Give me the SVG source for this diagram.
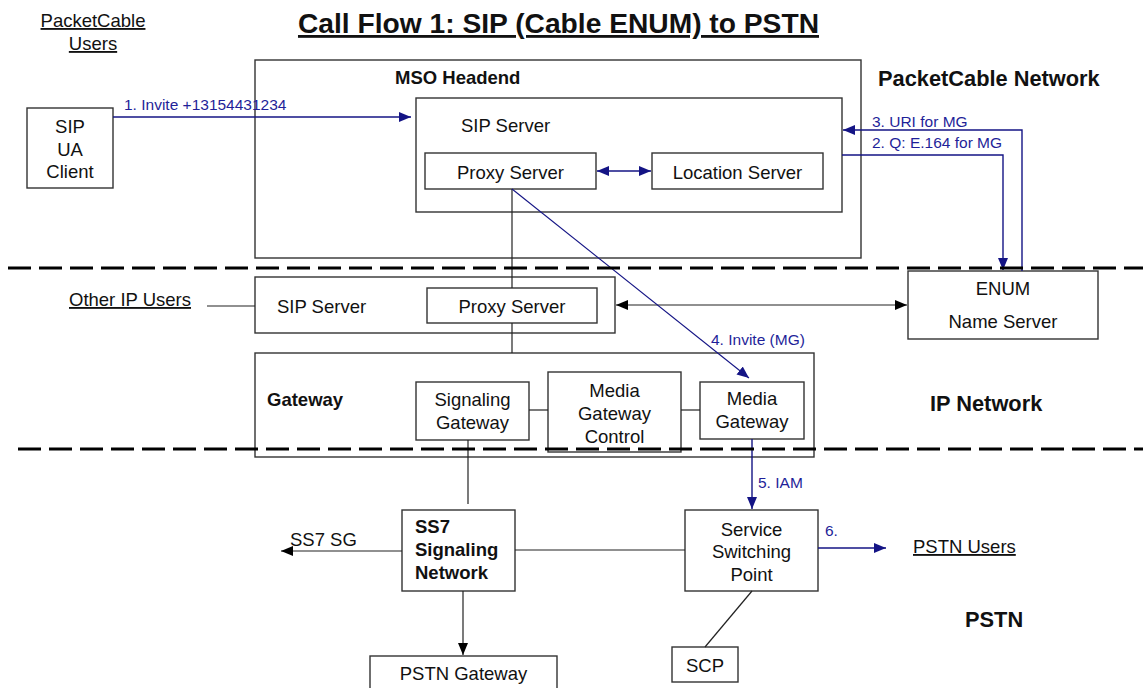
<svg xmlns="http://www.w3.org/2000/svg" width="1143" height="688" viewBox="0 0 1143 688">
<style>
text{font-family:"Liberation Sans",Arial,sans-serif;font-size:18.5px;fill:#111}
.c{text-anchor:middle}
.b{font-weight:bold}
.u{text-decoration:underline}
.h{font-weight:bold;font-size:21.8px}
.bl{fill:#1f1f99;font-size:15.5px}
.box{fill:#fff;stroke:#333;stroke-width:1.4}
.ln{stroke:#222;stroke-width:1.2;fill:none}
.bln{stroke:#141485;stroke-width:1.4;fill:none}
.dash{stroke:#000;stroke-width:3.2;stroke-dasharray:23 8;fill:none}
</style>
<defs>
<marker id="ab" markerUnits="userSpaceOnUse" markerWidth="12" markerHeight="12" refX="12" refY="6" orient="auto-start-reverse"><path d="M0,1 L12,6 L0,11 z" fill="#141485"/></marker>
<marker id="ak" markerUnits="userSpaceOnUse" markerWidth="12" markerHeight="12" refX="12" refY="6" orient="auto-start-reverse"><path d="M0,1 L12,6 L0,11 z" fill="#000"/></marker>
</defs>

<text x="558.5" y="33" class="c b u" style="font-size:28.2px">Call Flow 1: SIP (Cable ENUM) to PSTN</text>
<text x="93" y="27" class="c u">PacketCable</text>
<text x="93" y="50" class="c u">Users</text>
<text x="878" y="86" class="h">PacketCable Network</text>
<text x="930" y="411" class="h">IP Network</text>
<text x="965" y="627" class="h">PSTN</text>
<text x="69" y="306" class="u">Other IP Users</text>
<text x="913" y="553" class="u">PSTN Users</text>
<text x="290" y="546">SS7 SG</text>

<g id="mso-headend">
<rect class="box" x="255" y="60" width="606" height="198"/>
<text x="395" y="84" class="b">MSO Headend</text>
</g>
<g id="sip-ua-client">
<rect class="box" x="27" y="108" width="86" height="80"/>
<text x="70" y="133" class="c">SIP</text>
<text x="70" y="156" class="c">UA</text>
<text x="70" y="178" class="c">Client</text>
</g>
<g id="sip-server-mso">
<rect class="box" x="416" y="98" width="426" height="114"/>
<text x="461" y="132">SIP Server</text>
</g>
<g id="proxy-server-mso">
<rect class="box" x="425" y="153" width="171" height="36"/>
<text x="510.5" y="179" class="c">Proxy Server</text>
</g>
<g id="location-server">
<rect class="box" x="652" y="153" width="171" height="36"/>
<text x="737.5" y="179" class="c">Location Server</text>
</g>
<g id="enum-name-server">
<rect class="box" x="908" y="271" width="190" height="68"/>
<text x="1003" y="295" class="c">ENUM</text>
<text x="1003" y="328" class="c">Name Server</text>
</g>
<g id="sip-server-ip">
<rect class="box" x="255" y="277" width="360" height="56"/>
<text x="277" y="313">SIP Server</text>
</g>
<g id="proxy-server-ip">
<rect class="box" x="427" y="288" width="170" height="35"/>
<text x="512" y="313" class="c">Proxy Server</text>
</g>
<g id="gateway">
<rect class="box" x="255" y="353" width="559" height="104"/>
<text x="267" y="406" class="b">Gateway</text>
</g>
<g id="signaling-gateway">
<rect class="box" x="416" y="382" width="113" height="58"/>
<text x="472.5" y="406" class="c">Signaling</text>
<text x="472.5" y="429" class="c">Gateway</text>
</g>
<g id="media-gateway-control">
<rect class="box" x="548" y="372" width="133" height="80"/>
<text x="614.5" y="397" class="c">Media</text>
<text x="614.5" y="420" class="c">Gateway</text>
<text x="614.5" y="443" class="c">Control</text>
</g>
<g id="media-gateway">
<rect class="box" x="700" y="382" width="104" height="57"/>
<text x="752" y="405" class="c">Media</text>
<text x="752" y="428" class="c">Gateway</text>
</g>
<g id="ss7-signaling-network">
<rect class="box" x="402" y="510" width="113" height="81"/>
<text x="415" y="533" class="b">SS7</text>
<text x="415" y="556" class="b">Signaling</text>
<text x="415" y="579" class="b">Network</text>
</g>
<g id="service-switching-point">
<rect class="box" x="685" y="510" width="133" height="81"/>
<text x="751.5" y="536" class="c">Service</text>
<text x="751.5" y="558" class="c">Switching</text>
<text x="751.5" y="581" class="c">Point</text>
</g>
<g id="pstn-gateway">
<rect class="box" x="370" y="656" width="187" height="40"/>
<text x="463.5" y="680" class="c">PSTN Gateway</text>
</g>
<g id="scp">
<rect class="box" x="672" y="647" width="66" height="35"/>
<text x="705" y="672" class="c">SCP</text>
</g>

<g id="connectors">
<line class="bln" x1="113" y1="117" x2="411" y2="117" marker-end="url(#ab)"/>
<text x="124" y="110" class="bl">1. Invite +13154431234</text>
<line class="bln" x1="597" y1="171" x2="651" y2="171" marker-start="url(#ab)" marker-end="url(#ab)"/>
<polyline class="bln" points="842,155 1003,155 1003,270" marker-end="url(#ab)"/>
<text x="872" y="148" class="bl">2. Q: E.164 for MG</text>
<polyline class="bln" points="1022,271 1022,130 843,130" marker-end="url(#ab)"/>
<text x="872" y="127" class="bl">3. URI for MG</text>
<line class="ln" x1="512" y1="189" x2="512" y2="288"/>
<line class="ln" x1="207" y1="306" x2="255" y2="306"/>
<line class="ln" x1="616" y1="305" x2="907" y2="305" marker-start="url(#ak)" marker-end="url(#ak)"/>
<line class="bln" x1="512" y1="189" x2="749" y2="378" style="stroke-width:1.1" marker-end="url(#ab)"/>
<text x="711" y="345" class="bl">4. Invite (MG)</text>
<line class="ln" x1="512" y1="323" x2="512" y2="353"/>
<line class="ln" x1="529" y1="410" x2="548" y2="410"/>
<line class="ln" x1="681" y1="410" x2="700" y2="410"/>
<line class="ln" x1="468" y1="440" x2="468" y2="504"/>
<line class="bln" x1="752" y1="439" x2="752" y2="509" marker-end="url(#ab)"/>
<text x="758" y="488" class="bl">5. IAM</text>
<line class="ln" x1="402" y1="551" x2="281" y2="551" marker-end="url(#ak)"/>
<line class="ln" x1="515" y1="550" x2="685" y2="550"/>
<line class="bln" x1="818" y1="548" x2="886" y2="548" marker-end="url(#ab)"/>
<text x="825" y="536" class="bl">6.</text>
<line class="ln" x1="463" y1="591" x2="463" y2="655" marker-end="url(#ak)"/>
<line class="ln" x1="752" y1="591" x2="705" y2="647"/>
</g>

<line class="dash" x1="8" y1="268" x2="1143" y2="268"/>
<line class="dash" x1="18" y1="449" x2="1143" y2="449"/>
</svg>
